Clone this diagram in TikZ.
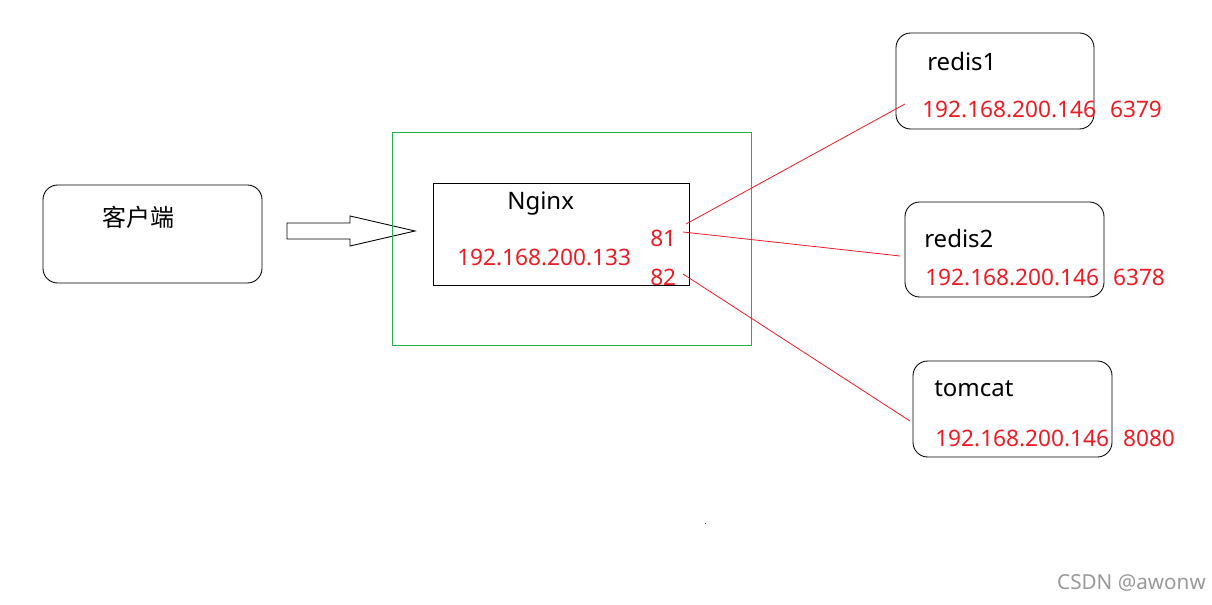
\documentclass[tikz,border=0pt]{standalone}
\usepackage{fontspec}
\setmainfont{Noto Sans}
\newfontfamily\cjk{Noto Sans CJK SC}
\definecolor{pred}{RGB}{237,28,36}
\definecolor{pgreen}{RGB}{34,177,76}
\begin{document}
\begin{tikzpicture}[x=0.75pt,y=-0.75pt,
  rbox/.style={draw=black,line width=0.65pt,rounded corners=11pt},
  sbox/.style={draw=black,line width=0.65pt},
  lbl/.style={inner sep=0pt,anchor=west,font=\fontsize{18}{20}\selectfont,text=black},
  ip/.style={inner sep=0pt,anchor=west,font=\fontsize{17}{20}\selectfont,text=pred},
  link/.style={draw=pred,line width=0.6pt}]
\useasboundingbox (0,0) rectangle (1212,605);
% client
\draw[rbox] (43,185) rectangle (262,283);
\node[lbl] (client) at (102,217) {\cjk 客户端};
% block arrow
\draw[line width=0.65pt] (287,223) -- (350,223) -- (350,216) -- (415,231) -- (350,246) -- (350,239) -- (287,239) -- cycle;
% green frame
\draw[draw=pgreen,line width=0.65pt] (392,132) rectangle (751,345);
% nginx
\draw[sbox] (433,183) rectangle (689,285);
\node[lbl] (nginx) at (507,204) {Nginx};
\node[ip] (nip) at (457,257) {192.168.200.133};
\node[ip] (p81) at (650,238) {81};
\node[ip] (p82) at (650,277) {82};
% redis1
\draw[rbox] (896,33) rectangle (1094,129);
\node[lbl] (r1) at (927,62) {redis1};
\node[ip] (r1ip) at (922,109) {192.168.200.146\hspace{10.5pt}6379};
% redis2
\draw[rbox] (905,202) rectangle (1104,297);
\node[lbl] (r2) at (924,239) {redis2};
\node[ip] (r2ip) at (925,277) {192.168.200.146\hspace{10.5pt}6378};
% tomcat
\draw[rbox] (913,361) rectangle (1112,457);
\node[lbl] (tc) at (934,389) {tomcat};
\node[ip] (tcip) at (935,438) {192.168.200.146\hspace{10.5pt}8080};
% link ends
\coordinate (a1) at (686,224);
\coordinate (b1) at (905,104);
\coordinate (a2) at (683,232);
\coordinate (b2) at (900,256);
\coordinate (a3) at (683,274);
\coordinate (b3) at (910,421);
\draw[link] (a1) -- (b1);
\draw[link] (a2) -- (b2);
\draw[link] (a3) -- (b3);
% dot
\fill[black!70] (704.5,522.5) rectangle (706,524);
% watermark
\node[inner sep=0pt,anchor=east,text=black!40,font=\fontsize{15.5}{18}\selectfont] (wm) at (1206,583) {CSDN @awonw};
\end{tikzpicture}
\end{document}
